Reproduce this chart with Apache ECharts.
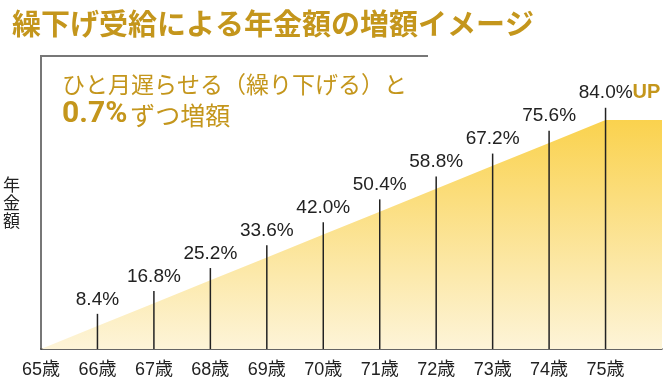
<!DOCTYPE html>
<html><head><meta charset="utf-8">
<style>html,body{margin:0;padding:0;background:#fff}#c{width:670px;height:385px}</style>
<script src="https://cdn.jsdelivr.net/npm/echarts@6/dist/echarts.min.js"></script>
</head><body><div id="c"></div>
<script>
var ages = ['65歳','66歳','67歳','68歳','69歳','70歳','71歳','72歳','73歳','74歳','75歳'];
var increase = [0, 8.4, 16.8, 25.2, 33.6, 42.0, 50.4, 58.8, 67.2, 75.6, 84.0];
var lineExtra = 4.5;
var gold = '#c4961c';
var CJK = '"Noto Sans CJK JP", "Noto Sans", sans-serif';
var LAT = '"Liberation Sans", "Noto Sans CJK JP", sans-serif';

var areaData = increase.map(function(v, i){ return [i, v]; });
areaData.push([ages.length, increase[increase.length-1]]);
var barData = [];
for (var i = 1; i < increase.length; i++) barData.push([i, increase[i] + lineExtra]);

var chart = echarts.init(document.getElementById('c'));
chart.setOption({
  animation: false,
  title: [{
    text: '繰下げ受給による年金額の増額イメージ',
    left: 7, top: 4,
    textStyle: {fontFamily: CJK, fontWeight: 'bold', fontSize: 29, color: gold}
  }],
  grid: {left: 40, right: 8, top: 56, bottom: 36},
  xAxis: {
    type: 'value', min: 0, max: ages.length, interval: 1,
    axisLine: {show: true, onZero: false, lineStyle: {color: '#333', width: 1.5}},
    axisTick: {show: false}, splitLine: {show: false},
    axisLabel: {
      margin: 12, fontSize: 18, color: '#222', fontFamily: LAT,
      formatter: function(v){ return ages[v] || ''; }
    }
  },
  yAxis: {
    type: 'value', min: 0, max: 107.5,
    name: '年\n金\n額', nameLocation: 'middle', nameGap: 21, nameRotate: 0,
    nameTextStyle: {fontFamily: CJK, fontSize: 17, color: '#222', lineHeight: 18},
    axisLine: {show: true, lineStyle: {color: '#777', width: 2}},
    axisTick: {show: false}, axisLabel: {show: false}, splitLine: {show: false}
  },
  graphic: [
    {type: 'line', shape: {x1: 40, y1: 56, x2: 428, y2: 56}, style: {stroke: '#777', lineWidth: 2}, z: 10},
    {type: 'text', left: 62, top: 73, style: {text: 'ひと月遅らせる（繰り下げる）と', font: '23px ' + CJK, fill: gold}},
    {type: 'text', left: 62, top: 99, style: {
      text: '{a|0.7%}{b|ずつ増額}',
      rich: {
        a: {fontFamily: 'Roboto, sans-serif', fontWeight: 'bold', fontSize: 30, fill: gold, color: gold},
        b: {fontFamily: CJK, fontSize: 25, fill: gold, color: gold, padding: [2,0,0,3]}
      }
    }}
  ],
  series: [
    {
      type: 'line', data: areaData, symbol: 'none',
      lineStyle: {width: 0},
      areaStyle: {opacity: 1, color: new echarts.graphic.LinearGradient(0, 0, 0, 1, [
        {offset: 0, color: '#fad24e'},
        {offset: 1, color: '#fdf4d8'}
      ])},
      z: 1
    },
    {
      type: 'bar', data: barData, barWidth: 1.5,
      itemStyle: {color: '#222'},
      label: {
        show: true, position: 'top', distance: 5,
        fontFamily: '"Liberation Sans", Arial, sans-serif', fontSize: 19, color: '#222',
        formatter: function(p){
          var idx = p.data[0];
          var s = increase[idx].toFixed(1) + '%';
          if (idx === increase.length - 1) return s + '{up|UP}';
          return s;
        },
        rich: {up: {fontFamily: '"Liberation Sans", Arial, sans-serif', fontWeight: 'bold', fontSize: 20, color: gold}}
      },
      labelLayout: function(p){
        if (p.dataIndex === barData.length - 1) return {dx: 14};
        return {};
      },
      z: 3
    }
  ]
});
</script></body></html>
